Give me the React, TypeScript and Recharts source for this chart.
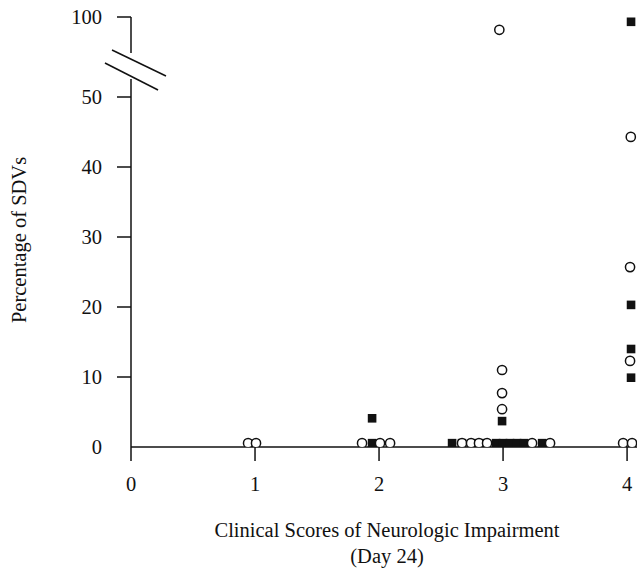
import React from "react";
import { ScatterChart, Scatter, XAxis, YAxis, ReferenceLine } from "recharts";

// Open circles (x = clinical score position, y = percentage of SDVs)
const openX = [0.944, 1.008, 1.863, 2.008, 2.089, 2.669, 2.742, 2.806, 2.871, 3.234, 3.379, 3.968, 4.04, 2.992, 2.992, 2.992, 2.97, 4.03, 4.024, 4.024];
const openY = [0.55, 0.55, 0.55, 0.55, 0.55, 0.55, 0.55, 0.55, 0.55, 0.55, 0.55, 0.55, 0.55, 11.0, 7.7, 5.4, 92, 44.3, 25.7, 12.3];

// Filled squares
const filledX = [1.944, 1.944, 2.589, 2.669, 2.75, 2.831, 2.944, 3.0, 3.056, 3.113, 3.169, 3.315, 2.992, 4.032, 4.032, 4.032, 4.032];
const filledY = [0.55, 4.1, 0.55, 0.55, 0.55, 0.55, 0.55, 0.55, 0.55, 0.55, 0.55, 0.55, 3.7, 97, 20.3, 14.0, 9.9];

const xTicks = [0, 1, 2, 3, 4];
const yTickLabels = [0, 10, 20, 30, 40, 50, 100];

// broken axis: linear 0-50, compressed 50-100
const toAxis = (v: number) => (v <= 50 ? v : 50 + (v - 50) * (80 / 7 / 50));
const yMax = toAxis(100);

const openData = openX.map((x, i) => ({ x, y: toAxis(openY[i]) }));
const filledData = filledX.map((x, i) => ({ x, y: toAxis(filledY[i]) }));
const yTicks = yTickLabels.map(toAxis);

const FONT = "'Liberation Serif', 'Times New Roman', serif";
const INK = "#111";

const OpenCircle = (p: any) => (
  <circle cx={p.cx} cy={p.cy} r={4.6} fill="#fff" stroke={INK} strokeWidth={1.5} />
);
const FilledSquare = (p: any) => (
  <rect x={p.cx - 4.3} y={p.cy - 4.3} width={8.6} height={8.6} fill={INK} />
);

const TICK_SIZE = 14;
const TICK_MARGIN = 15;

const YTick = (p: any) => {
  const v = p.payload.value;
  const idx = yTicks.findIndex((t) => Math.abs(t - v) < 1e-6);
  const label = idx >= 0 ? yTickLabels[idx] : v;
  return (
    <g>
      {label !== 0 && (
        <line
          x1={p.x + TICK_MARGIN}
          x2={p.x + TICK_MARGIN + TICK_SIZE}
          y1={p.y}
          y2={p.y}
          stroke={INK}
          strokeWidth={1.5}
        />
      )}
      <text x={p.x} y={p.y} dy="0.36em" textAnchor="end" fontFamily={FONT} fontSize={20.5} fill={INK}>
        {label}
      </text>
    </g>
  );
};

const XTitle = (props: any) => {
  const vb = props.viewBox || { x: 131, width: 506, y: 447 };
  const cx = vb.x + vb.width / 2 + 3;
  return (
    <g>
      <text x={cx} y={vb.y + 90} textAnchor="middle" fontFamily={FONT} fontSize={20.5} fill={INK}>
        Clinical Scores of Neurologic Impairment
      </text>
      <text x={cx} y={vb.y + 116} textAnchor="middle" fontFamily={FONT} fontSize={20.5} fill={INK}>
        (Day 24)
      </text>
    </g>
  );
};

const YTitle = () => (
  <text
    transform="translate(26, 240) rotate(-90)"
    textAnchor="middle"
    fontFamily={FONT}
    fontSize={20.5}
    fill={INK}
  >
    Percentage of SDVs
  </text>
);

const lineStyle = { stroke: INK, strokeWidth: 1.5 };

export default function App() {
  return (
    <div style={{ position: "absolute", left: 0, top: 0, background: "#fff" }}>
      <ScatterChart width={637} height={575} margin={{ top: 17, right: 0, bottom: 0, left: 0 }}>
        <XAxis
          type="number"
          dataKey="x"
          domain={[0, 4.08]}
          ticks={xTicks}
          allowDataOverflow
          height={128}
          tickSize={TICK_SIZE}
          tickMargin={15}
          axisLine={lineStyle}
          tickLine={lineStyle}
          tick={{ fontFamily: FONT, fontSize: 20.5, fill: INK }}
          label={<XTitle />}
        />
        <YAxis
          type="number"
          dataKey="y"
          domain={[0, yMax]}
          ticks={yTicks}
          allowDataOverflow
          width={131}
          tickSize={TICK_SIZE}
          tickMargin={TICK_MARGIN}
          axisLine={false}
          tickLine={false}
          tick={<YTick />}
          label={<YTitle />}
        />
        {/* y axis line, interrupted at the break */}
        <ReferenceLine segment={[{ x: 0, y: 0 }, { x: 0, y: 52.57 }]} ifOverflow="visible" {...lineStyle} />
        <ReferenceLine segment={[{ x: 0, y: 56.29 }, { x: 0, y: yMax }]} ifOverflow="visible" {...lineStyle} />
        {/* break marks */}
        <ReferenceLine segment={[{ x: -0.153, y: 56.71 }, { x: 0.282, y: 53.0 }]} ifOverflow="visible" {...lineStyle} />
        <ReferenceLine segment={[{ x: -0.21, y: 54.86 }, { x: 0.218, y: 51.0 }]} ifOverflow="visible" {...lineStyle} />
        <Scatter data={filledData} shape={<FilledSquare />} isAnimationActive={false} />
        <Scatter data={openData} shape={<OpenCircle />} isAnimationActive={false} />
      </ScatterChart>
    </div>
  );
}
